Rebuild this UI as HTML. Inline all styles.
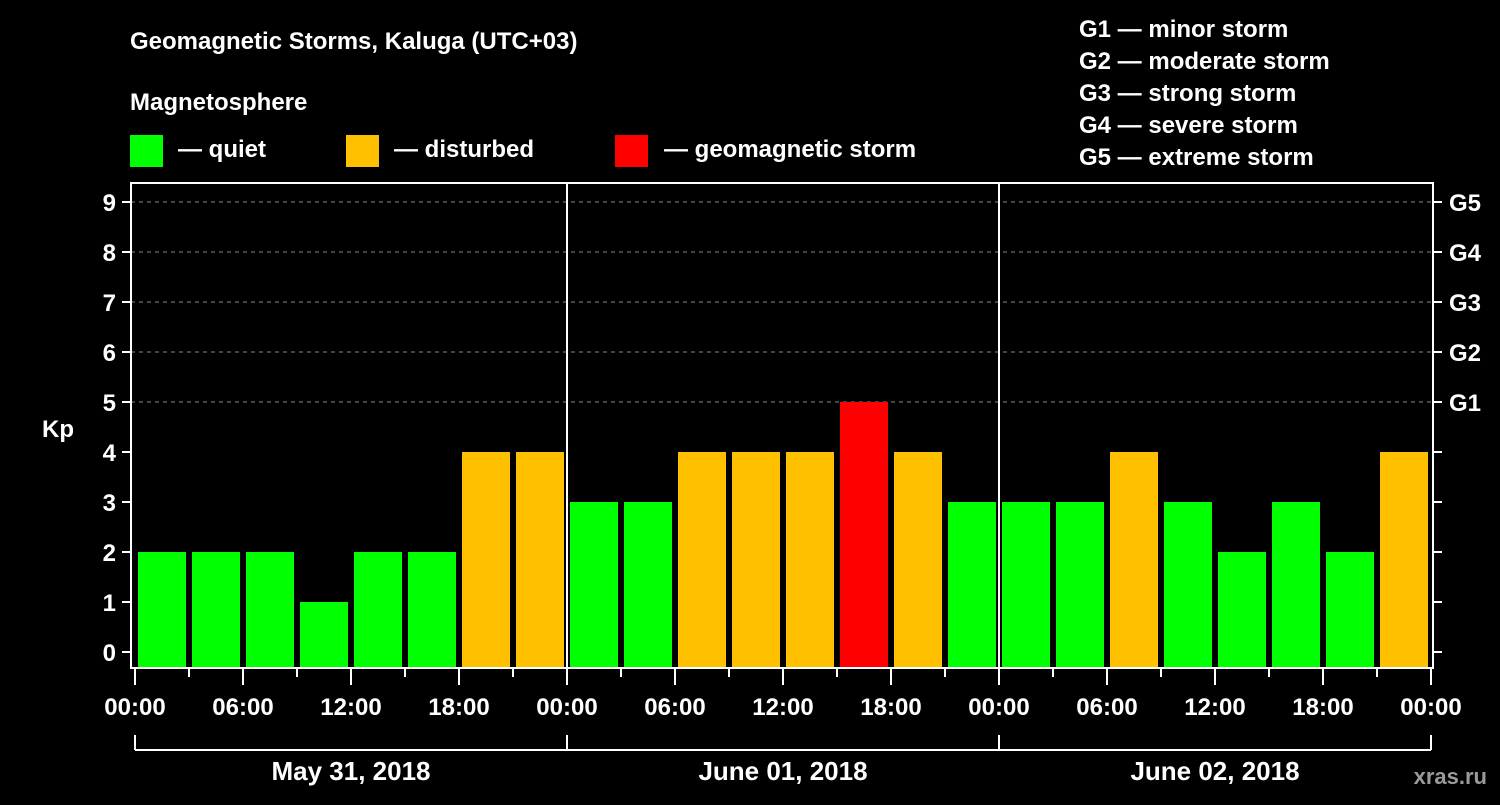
<!DOCTYPE html>
<html><head><meta charset="utf-8"><style>
body{margin:0;background:#000;width:1500px;height:800px;overflow:hidden}
svg text{font-family:"Liberation Sans",Arial,sans-serif;font-weight:bold;fill:#fff}
</style></head><body>
<svg id="chart" width="1500" height="800" viewBox="0 0 1500 800">
<text x="130" y="49" font-size="24">Geomagnetic Storms, Kaluga (UTC+03)</text>
<text x="130" y="110" font-size="24">Magnetosphere</text>
<g>
<rect x="130" y="135" width="33" height="32" fill="#00ff00"/>
<text x="178" y="157" font-size="24">— quiet</text>
<rect x="346" y="135" width="33" height="32" fill="#ffc000"/>
<text x="394" y="157" font-size="24">— disturbed</text>
<rect x="615" y="135" width="33" height="32" fill="#ff0000"/>
<text x="664" y="157" font-size="24">— geomagnetic storm</text>
</g>
<g font-size="24">
<text x="1079" y="37">G1 — minor storm</text>
<text x="1079" y="69">G2 — moderate storm</text>
<text x="1079" y="101">G3 — strong storm</text>
<text x="1079" y="133">G4 — severe storm</text>
<text x="1079" y="165">G5 — extreme storm</text>
</g>
<text x="42" y="437" font-size="24">Kp</text>
<text x="1487" y="784" font-size="22" text-anchor="end" fill="#999" style="fill:#9a9a9a">xras.ru</text>
<g id="grid"></g><g id="bars"></g><g id="axes"></g>
</svg>
<script>
const days = ["May 31, 2018", "June 01, 2018", "June 02, 2018"];
const kpValues = [2,2,2,1,2,2,4,4, 3,3,4,4,4,5,4,3, 3,3,4,3,2,3,2,4];
const yTicks = [0,1,2,3,4,5,6,7,8,9];
const gLabels = ["G1","G2","G3","G4","G5"];
const hourLabels = ["00:00","06:00","12:00","18:00"];

const NS="http://www.w3.org/2000/svg";
const X0=135, DAYW=432, HOURW=DAYW/24;
const Y0=652, UNIT=50;
const LEFT=131, RIGHT=1433, TOP=183, BOTTOM=668;
const xh=h=>X0+h*HOURW;
const yv=v=>Y0-v*UNIT;
function mk(tag,attrs,parent,txt){const e=document.createElementNS(NS,tag);for(const k in attrs)e.setAttribute(k,attrs[k]);if(txt!==undefined)e.textContent=txt;parent.appendChild(e);return e;}
const grid=document.getElementById('grid'),bars=document.getElementById('bars'),axes=document.getElementById('axes');

yTicks.forEach(v=>{
  if(v>=5){const l=mk('line',{x1:LEFT,x2:RIGHT,y1:yv(v),y2:yv(v),stroke:'#888','stroke-dasharray':'4,4','stroke-width':1},grid);
  
  }
});
kpValues.forEach((v,i)=>{
  const c=v>=5?'#ff0000':(v>=4?'#ffc000':'#00ff00');
  const r=mk('rect',{x:xh(i*3)+3,y:yv(v),width:HOURW*3-6,height:BOTTOM-yv(v),fill:c},bars);
  
  
});
const frame=mk('rect',{x:LEFT,y:TOP,width:RIGHT-LEFT,height:BOTTOM-TOP,fill:'none',stroke:'#fff','stroke-width':2},axes);


for(let d=1;d<days.length;d++){
  const l=mk('line',{x1:xh(d*24),x2:xh(d*24),y1:TOP,y2:BOTTOM,stroke:'#fff','stroke-width':2},axes);
  
  
}
yTicks.forEach(v=>{
  mk('line',{x1:122,x2:LEFT,y1:yv(v),y2:yv(v),stroke:'#fff','stroke-width':2},axes);
  mk('line',{x1:RIGHT,x2:1442,y1:yv(v),y2:yv(v),stroke:'#fff','stroke-width':2},axes);
  const t=mk('text',{x:116,y:yv(v)+9,'font-size':24,'text-anchor':'end'},axes,String(v));
  
  
});
gLabels.forEach((g,i)=>{
  const t=mk('text',{x:1449,y:yv(5+i)+9,'font-size':24},axes,g);
  
  
});
for(let h=0;h<=days.length*24;h+=3){
  const major=h%6===0;
  mk('line',{x1:xh(h),x2:xh(h),y1:BOTTOM,y2:major?685:677,stroke:'#fff','stroke-width':2},axes);
  if(major){
    const t=mk('text',{x:xh(h),y:715,'font-size':24,'text-anchor':'middle'},axes,hourLabels[(h%24)/6]);
    
    
  }
}
mk('line',{x1:X0,x2:xh(days.length*24),y1:750,y2:750,stroke:'#fff','stroke-width':2},axes);
for(let d=0;d<=days.length;d++){
  mk('line',{x1:xh(d*24),x2:xh(d*24),y1:735,y2:750,stroke:'#fff','stroke-width':2},axes);
}
days.forEach((d,i)=>{
  const t=mk('text',{x:xh(i*24+12),y:780,'font-size':26,'text-anchor':'middle'},axes,d);
  
  
});
</script>
</body></html>
